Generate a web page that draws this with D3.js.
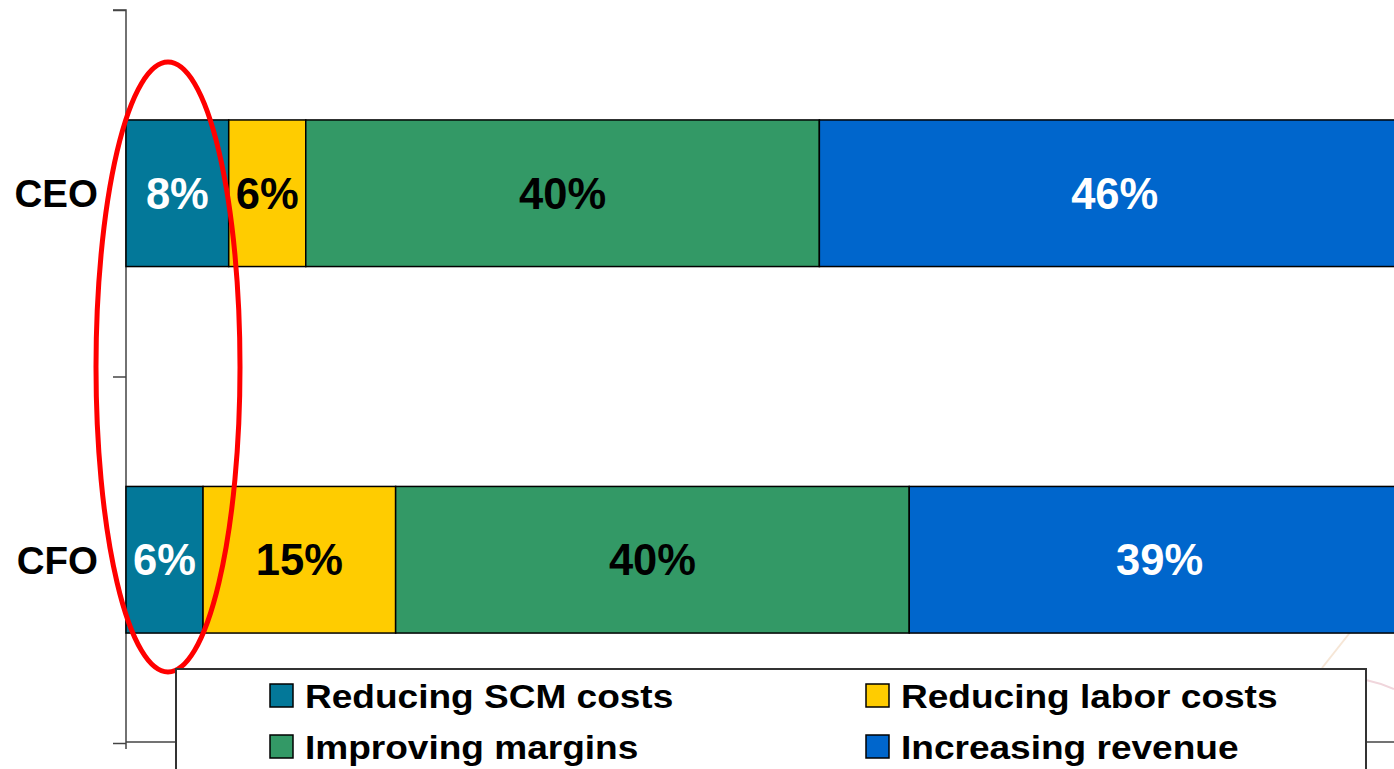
<!DOCTYPE html>
<html>
<head>
<meta charset="utf-8">
<script src="https://cdn.jsdelivr.net/npm/d3@7"></script>
<style>
  html, body { margin: 0; padding: 0; background: #fff; overflow: hidden; }
  svg { display: block; font-family: "Liberation Sans", Arial, sans-serif; font-weight: bold; }
</style>
</head>
<body>
<svg id="chart" width="1394" height="769"></svg>
<script>
// Priorities by role, share of respondents (%)
const roles = ["CEO", "CFO"];
const seriesNames = ["Reducing SCM costs", "Reducing labor costs", "Improving margins", "Increasing revenue"];
const reducingScm = [8, 6];
const reducingLabor = [6, 15];
const improvingMargins = [40, 40];
const increasingRevenue = [46, 39];
const seriesColors = ["#037899", "#FFCC00", "#339966", "#0066CC"];
const labelColors = ["#fff", "#000", "#000", "#fff"];

const svg = d3.select("#chart");

const x = d3.scaleLinear().domain([0, 100]).range([126, 1410]);
const y = d3.scaleBand().domain(roles).range([10, 743]).paddingInner(0.6).paddingOuter(0.3);

// faint background mark in the lower right corner
svg.append("path").attr("d", "M1322,668 L1352,630").attr("stroke", "#f6e6d6").attr("stroke-width", 2).attr("fill", "none");
svg.append("path").attr("d", "M1366,680 Q1380,683 1394,689").attr("stroke", "#f0d6dc").attr("stroke-width", 2).attr("fill", "none");

// stacked rows
const table = roles.map((r, i) => ({
  role: r,
  values: [reducingScm[i], reducingLabor[i], improvingMargins[i], increasingRevenue[i]]
}));
const stack = d3.stack().keys(d3.range(seriesNames.length)).value((d, k) => d.values[k]);
const layers = stack(table);

// axis frame
const axisColor = "#444";
svg.append("line").attr("x1", x(0)).attr("x2", 1394).attr("y1", 742).attr("y2", 742).attr("stroke", axisColor).attr("stroke-width", 1.5);
const yAxis = d3.axisLeft(d3.scaleLinear().domain([0, 2]).range([743, 10])).ticks(2).tickSize(13).tickFormat("");
const ax = svg.append("g").attr("transform", `translate(${x(0)},0)`).call(yAxis);
ax.select(".domain").attr("stroke", axisColor).attr("stroke-width", 1.5).attr("d", "M-13,10H0V749");
ax.selectAll(".tick line").attr("stroke", axisColor).attr("stroke-width", 1.5);

layers.forEach((layer, k) => {
  const g = svg.append("g");
  g.selectAll("rect").data(layer).join("rect")
    .attr("x", d => x(d[0]))
    .attr("y", d => y(d.data.role))
    .attr("width", d => x(d[1]) - x(d[0]))
    .attr("height", y.bandwidth())
    .attr("fill", seriesColors[k])
    .attr("stroke", "#000")
    .attr("stroke-width", 1.5);
  g.selectAll("text").data(layer).join("text")
    .attr("x", d => (x(d[0]) + x(d[1])) / 2)
    .attr("y", d => y(d.data.role) + y.bandwidth() / 2)
    .attr("dy", "0.36em")
    .attr("text-anchor", "middle")
    .attr("font-size", 43.5)
    .attr("fill", labelColors[k])
    .text(d => d.data.values[k] + "%");
});

// role labels
svg.append("g").selectAll("text").data(roles).join("text")
  .attr("x", 98)
  .attr("y", d => y(d) + y.bandwidth() / 2)
  .attr("dy", "0.36em")
  .attr("text-anchor", "end")
  .attr("font-size", 38.5)
  .attr("fill", "#000")
  .text(d => d);

// highlight ring around the SCM share
svg.append("ellipse")
  .attr("cx", 168).attr("cy", 367).attr("rx", 72).attr("ry", 305)
  .attr("fill", "none").attr("stroke", "#FF0000").attr("stroke-width", 5);

// legend
const legend = svg.append("g");
legend.append("rect").attr("x", 176).attr("y", 669).attr("width", 1190).attr("height", 120)
  .attr("fill", "#fff").attr("stroke", "#333").attr("stroke-width", 2);
const colX = [270, 866];
const rowY = [684, 735];
seriesNames.forEach((name, i) => {
  const cx = colX[i % 2], ry = rowY[Math.floor(i / 2)];
  legend.append("rect").attr("x", cx).attr("y", ry).attr("width", 23).attr("height", 23)
    .attr("fill", seriesColors[i]).attr("stroke", "#000").attr("stroke-width", 1.5);
  legend.append("text")
    .attr("transform", `translate(${cx + 35},${ry + 24}) scale(1.14,1)`)
    .attr("font-size", 32.5)
    .attr("fill", "#000")
    .text(name);
});
</script>
</body>
</html>
